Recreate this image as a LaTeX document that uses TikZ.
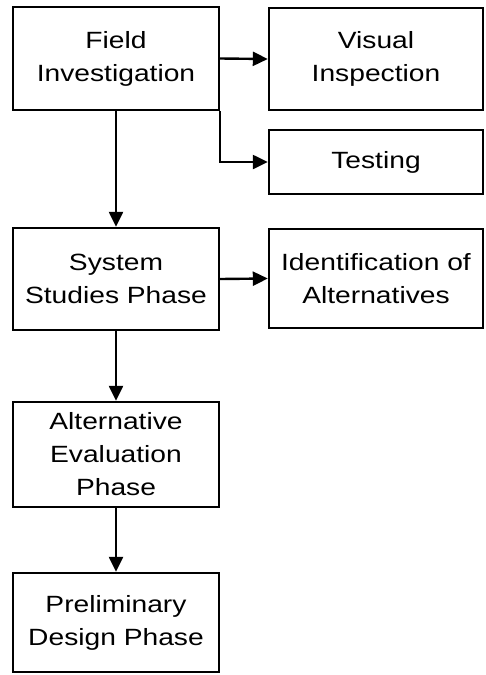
\documentclass[tikz,border=0pt]{standalone}
\usepackage{fontspec}
\setmainfont[FakeStretch=1.2]{Liberation Sans}
\usetikzlibrary{arrows.meta}
\begin{document}
\begin{tikzpicture}[x=1pt,y=-1pt,
  box/.style={draw,line width=2.4pt,align=center,inner sep=0pt,
    font=\fontsize{23.5}{33}\selectfont},
  conn/.style={line width=2.4pt,-{Triangle[length=15pt,width=14pt]}}]
\useasboundingbox (0,0) rectangle (485,675);
\node[box,minimum width=206pt,minimum height=103pt] (field) at (116,58.5) {Field\\Investigation};
\node[box,minimum width=214pt,minimum height=102pt] (visual) at (376,59) {Visual\\Inspection};
\node[box,minimum width=214pt,minimum height=64pt] (testing) at (376,162) {Testing};
\node[box,minimum width=206pt,minimum height=102pt] (system) at (116,279) {System\\Studies Phase};
\node[box,minimum width=214pt,minimum height=99pt] (ident) at (376,278.5) {Identification of\\Alternatives};
\node[box,minimum width=206pt,minimum height=105pt] (alt) at (116,454.5) {Alternative\\Evaluation\\Phase};
\node[box,minimum width=206pt,minimum height=99pt] (prelim) at (116,622.5) {Preliminary\\Design Phase};
\draw[conn] (field.east) -- (visual.west);
\draw[conn] (field.south east) |- (testing.west);
\draw[conn] (field.south) -- (system.north);
\draw[conn] (system.east) -- (ident.west);
\draw[conn] (system.south) -- (alt.north);
\draw[conn] (alt.south) -- (prelim.north);
\end{tikzpicture}
\end{document}
